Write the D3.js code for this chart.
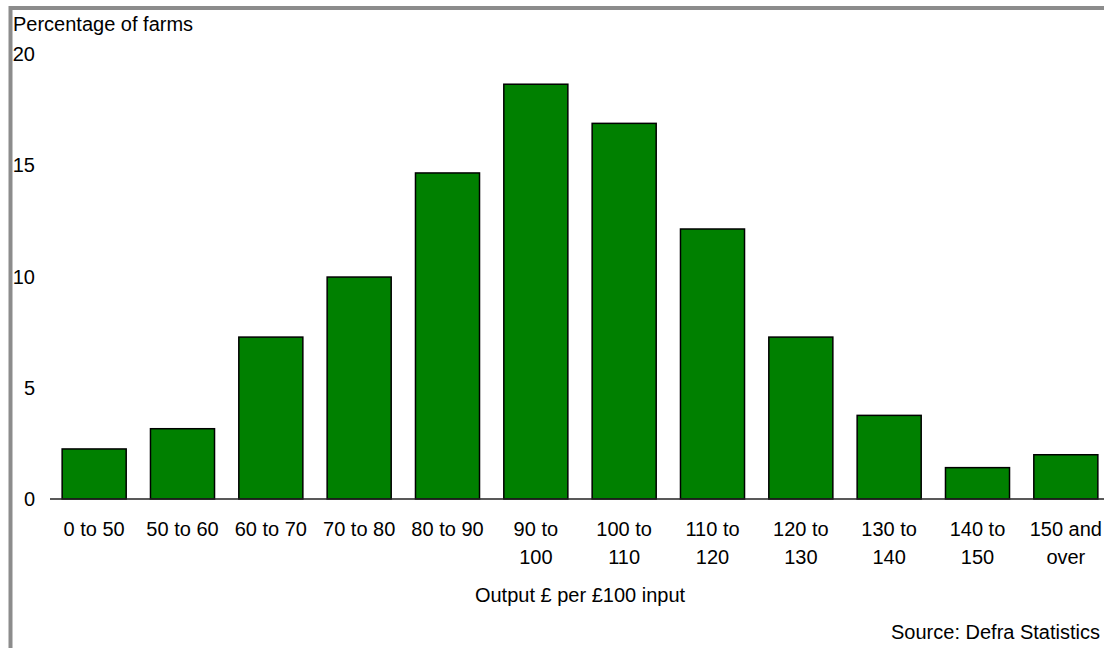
<!DOCTYPE html>
<html>
<head>
<meta charset="utf-8">
<script src="https://cdn.jsdelivr.net/npm/d3@7"></script>
<style>
  html, body { margin: 0; padding: 0; background: #fff; }
  svg { display: block; font-family: Arial, "Liberation Sans", sans-serif; }
</style>
</head>
<body>
<svg id="chart" width="1104" height="648"></svg>
<script>
// Farm efficiency distribution: output per £100 input
const categories = [
  ["0 to 50"], ["50 to 60"], ["60 to 70"], ["70 to 80"], ["80 to 90"],
  ["90 to", "100"], ["100 to", "110"], ["110 to", "120"], ["120 to", "130"],
  ["130 to", "140"], ["140 to", "150"], ["150 and", "over"]
];
const percentages = [2.25, 3.16, 7.28, 9.98, 14.66, 18.65, 16.89, 12.14, 7.28, 3.76, 1.41, 1.99];
const yTicks = [0, 5, 10, 15, 20];
const yTitle = "Percentage of farms";
const xTitle = "Output £ per £100 input";
const sourceNote = "Source: Defra Statistics";

const svg = d3.select("#chart");
const keys = categories.map(c => c.join(" "));

const x = d3.scaleBand()
  .domain(keys)
  .range([50, 1110])
  .paddingInner(0.275)
  .paddingOuter(0.1375);

const y = d3.scaleLinear()
  .domain([0, 20])
  .range([499, 54.2]);

// frame
svg.append("rect")
  .attr("x", 10.5).attr("y", 8)
  .attr("width", 1200).attr("height", 800)
  .attr("fill", "none")
  .attr("stroke", "#8c8c8c")
  .attr("stroke-width", 4);

// value labels on the left
svg.append("g")
  .selectAll("text")
  .data(yTicks)
  .join("text")
  .attr("x", 35)
  .attr("y", d => y(d))
  .attr("dy", "0.35em")
  .attr("text-anchor", "end")
  .attr("font-size", 20)
  .attr("fill", "#000")
  .text(d => d);

svg.append("text")
  .attr("x", 13).attr("y", 31)
  .attr("font-size", 20)
  .attr("fill", "#000")
  .text(yTitle);

// bars
svg.append("g")
  .selectAll("rect")
  .data(percentages)
  .join("rect")
  .attr("x", (d, i) => x(keys[i]))
  .attr("y", d => y(d))
  .attr("width", x.bandwidth())
  .attr("height", d => y(0) - y(d))
  .attr("fill", "#008000")
  .attr("stroke", "#000")
  .attr("stroke-width", 1.5);

// baseline
svg.append("line")
  .attr("x1", 50).attr("x2", 1110)
  .attr("y1", y(0)).attr("y2", y(0))
  .attr("stroke", "#222")
  .attr("stroke-width", 1.3);

// category labels
const cat = svg.append("g")
  .selectAll("text")
  .data(categories)
  .join("text")
  .attr("x", (d, i) => x(keys[i]) + x.bandwidth() / 2)
  .attr("y", 536)
  .attr("text-anchor", "middle")
  .attr("font-size", 20)
  .attr("fill", "#000");
cat.selectAll("tspan")
  .data(d => d)
  .join("tspan")
  .attr("x", function () { return d3.select(this.parentNode).attr("x"); })
  .attr("dy", (d, i) => i === 0 ? 0 : 28)
  .text(d => d);

svg.append("text")
  .attr("x", (x.range()[0] + x.range()[1]) / 2)
  .attr("y", 602)
  .attr("text-anchor", "middle")
  .attr("font-size", 20)
  .attr("fill", "#000")
  .text(xTitle);

svg.append("text")
  .attr("x", 1100)
  .attr("y", 638.5)
  .attr("text-anchor", "end")
  .attr("font-size", 20)
  .attr("fill", "#000")
  .text(sourceNote);
</script>
</body>
</html>
